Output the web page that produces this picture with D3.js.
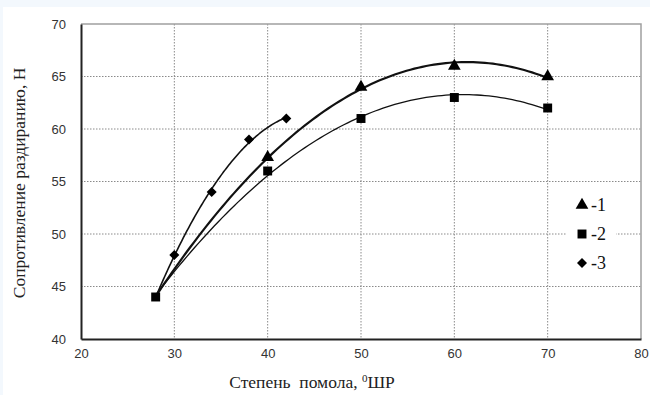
<!DOCTYPE html>
<html><head><meta charset="utf-8">
<script src="https://cdn.jsdelivr.net/npm/d3@7"></script>
<style>
html,body{margin:0;padding:0;background:#f3f8fd;}
svg{display:block;}
</style></head>
<body>
<script>
// ---- data ----
const xTicks = [20, 30, 40, 50, 60, 70, 80];
const yTicks = [40, 45, 50, 55, 60, 65, 70];
const s1x = [28, 40, 50, 60, 70];
const s1y = [44, 57.3, 64, 66, 65];
const s2x = [28, 40, 50, 60, 70];
const s2y = [44, 56, 61, 63, 62];
const s3x = [28, 30, 34, 38, 42];
const s3y = [44, 48, 54, 59, 61];
const legendLabels = ["-1", "-2", "-3"];
const xTitle = "Степень  помола, ";
const xTitleSup = "0";
const xTitleEnd = "ШР";
const yTitle = "Сопротивление раздиранию, Н";

const W = 650, H = 395;
const m = {l: 81, r: 9, t: 24, b: 56};
const svg = d3.select("body").append("svg").attr("width", W).attr("height", H);
svg.append("rect").attr("x", 3).attr("y", 7).attr("width", W - 3).attr("height", H - 7).attr("fill", "#fff");

const x = d3.scaleLinear().domain([20, 80]).range([m.l, W - m.r]);
const y = d3.scaleLinear().domain([40, 70]).range([H - m.b, m.t]);

const serif = "'Liberation Serif', 'Times New Roman', serif";
const sans = "'Liberation Sans', Arial, sans-serif";

// grid
const g = svg.append("g");
g.selectAll(".vg").data(xTicks.slice(1, -1)).enter().append("line")
  .attr("x1", d => x(d)).attr("x2", d => x(d)).attr("y1", y(70)).attr("y2", y(40))
  .attr("stroke", "#8a8a8a").attr("stroke-width", 1).attr("stroke-dasharray", "1.5,1.5");
g.selectAll(".hg").data(yTicks.slice(1, -1)).enter().append("line")
  .attr("x1", x(20)).attr("x2", x(80)).attr("y1", d => y(d)).attr("y2", d => y(d))
  .attr("stroke", "#8a8a8a").attr("stroke-width", 1).attr("stroke-dasharray", "1.5,1.5");
// frame top/right
g.append("path").attr("d", `M${x(20)},${y(70)}H${x(80)}V${y(40)}`)
  .attr("fill", "none").attr("stroke", "#a0a0a0").attr("stroke-width", 1.5);

// axes
const xAxis = svg.append("g").attr("transform", `translate(0,${y(40)})`)
  .call(d3.axisBottom(x).tickValues(xTicks).tickSize(0).tickPadding(10));
const yAxis = svg.append("g").attr("transform", `translate(${x(20)},0)`)
  .call(d3.axisLeft(y).tickValues(yTicks).tickSize(0).tickPadding(15));
[xAxis, yAxis].forEach(a => {
  a.select(".domain").attr("stroke", "#222").attr("stroke-width", 2);
  a.selectAll("text").attr("font-family", sans)
    .attr("font-size", 13).attr("fill", "#333");
});

// polynomial least-squares trendline from data
function polyfit(xs, ys, deg) {
  const n = deg + 1;
  const A = Array.from({length: n}, () => new Array(n + 1).fill(0));
  for (let i = 0; i < xs.length; i++) {
    for (let r = 0; r < n; r++) {
      for (let c = 0; c < n; c++) A[r][c] += Math.pow(xs[i], r + c);
      A[r][n] += ys[i] * Math.pow(xs[i], r);
    }
  }
  for (let i = 0; i < n; i++) {
    let p = i;
    for (let k = i + 1; k < n; k++) if (Math.abs(A[k][i]) > Math.abs(A[p][i])) p = k;
    [A[i], A[p]] = [A[p], A[i]];
    for (let k = 0; k < n; k++) if (k !== i) {
      const f = A[k][i] / A[i][i];
      for (let c = i; c <= n; c++) A[k][c] -= f * A[i][c];
    }
  }
  return A.map((row, i) => row[n] / row[i]);
}
const series = [
  {xs: s1x, ys: s1y, w: 2.2, sym: d3.symbolTriangle, size: 70, rot: 0},
  {xs: s2x, ys: s2y, w: 1.3, sym: d3.symbolSquare, size: 80, rot: 0},
  {xs: s3x, ys: s3y, w: 1.6, sym: d3.symbolSquare, size: 50, rot: 45}
];
const line = d3.line().x(d => x(d[0])).y(d => y(d[1]));
series.forEach(s => {
  const c = polyfit(s.xs, s.ys, 2);
  const x0 = d3.min(s.xs), x1 = d3.max(s.xs);
  const pts = d3.range(0, 101).map(i => {
    const xv = x0 + (x1 - x0) * i / 100;
    return [xv, c.reduce((acc, cv, k) => acc + cv * Math.pow(xv, k), 0)];
  });
  svg.append("path").datum(pts).attr("d", line).attr("fill", "none")
    .attr("stroke", "#111").attr("stroke-width", s.w);
});
// markers; the shared starting point is shown by the square only
const sq = d3.zip(s2x, s2y).map(p => p.join(","));
series.forEach((s, i) => {
  const pts = d3.zip(s.xs, s.ys).filter(p => i === 1 || !sq.includes(p.join(",")));
  svg.selectAll(null).data(pts).enter().append("path")
    .attr("d", d3.symbol().type(s.sym).size(s.size))
    .attr("transform", d => `translate(${x(d[0])},${y(d[1])}) rotate(${s.rot})`)
    .attr("fill", "#000");
});

// legend
const lg = svg.append("g");
lg.append("rect").attr("x", 566).attr("y", 192).attr("width", 50).attr("height", 86).attr("fill", "#fff");
series.forEach((s, i) => {
  const cy = 205 + i * 29;
  lg.append("path").attr("d", d3.symbol().type(s.sym).size(s.size))
    .attr("transform", `translate(582,${cy}) rotate(${s.rot})`).attr("fill", "#000");
  lg.append("text").attr("x", 591).attr("y", cy + 6).text(legendLabels[i])
    .attr("font-family", serif).attr("font-size", 18).attr("fill", "#111");
});

// titles
const xt = svg.append("text").attr("x", 312).attr("y", 388).attr("text-anchor", "middle")
  .style("white-space", "pre")
  .attr("font-family", serif).attr("font-size", 17.5).attr("fill", "#222");
xt.append("tspan").text(xTitle);
xt.append("tspan").text(xTitleSup).attr("font-size", 11).attr("dy", -6);
xt.append("tspan").text(xTitleEnd).attr("dy", 6);
svg.append("text").attr("transform", `translate(25,183) rotate(-90)`).attr("text-anchor", "middle")
  .attr("font-family", serif).attr("font-size", 17.5).attr("fill", "#222")
  .text(yTitle);
</script>
</body></html>
